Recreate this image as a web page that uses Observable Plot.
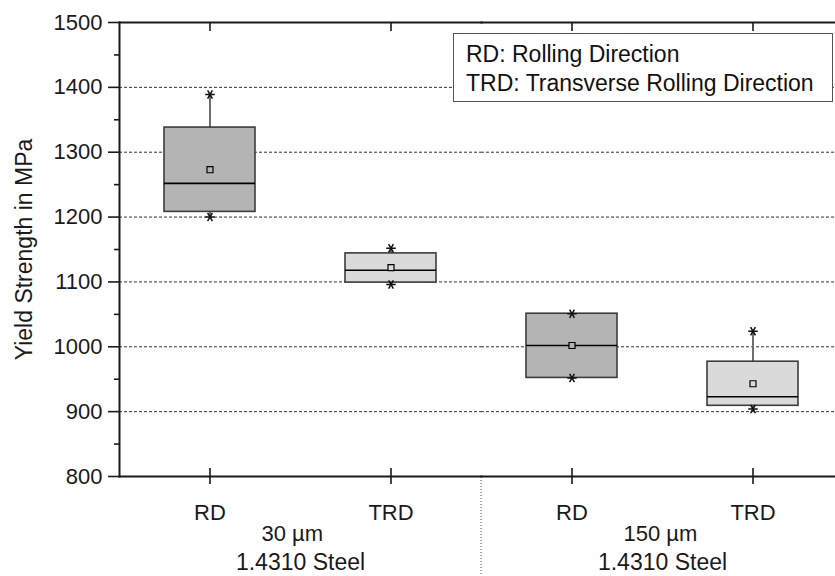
<!DOCTYPE html>
<html>
<head>
<meta charset="utf-8">
<script src="https://cdn.jsdelivr.net/npm/d3@7"></script>
<script src="https://cdn.jsdelivr.net/npm/@observablehq/plot@0.6"></script>
<style>
  html, body { margin: 0; padding: 0; background: #fff; overflow: hidden; }
  #wrap { position: relative; width: 835px; height: 576px; overflow: hidden; font-family: "Liberation Sans", Arial, sans-serif; }
  #legend { position: absolute; left: 453px; top: 33px; box-sizing: border-box; width: 380px; height: 69px;
    border: 1px solid #555; background: #fff; font-size: 23px; line-height: 28.5px; padding: 6px 0 0 12px; color: #111; }
  #legend div { white-space: nowrap; }
</style>
</head>
<body>
<div id="wrap"><div id="legend"></div></div>
<script>
// ---- data ----
const directions = ["RD", "TRD"];
const groups = ["30 µm", "150 µm"];
const material = "1.4310 Steel";
const boxGroup = ["30 µm", "30 µm", "150 µm", "150 µm"];
const boxDir = ["RD", "TRD", "RD", "TRD"];
const whiskerLow = [1200, 1096, 952, 904];
const q1 = [1208, 1099, 952, 909];
const median = [1252, 1118, 1002, 923];
const q3 = [1338, 1144, 1051, 977];
const whiskerHigh = [1389, 1152, 1051, 1024];
const mean = [1273, 1122, 1002, 943];
const yTicks = [800, 900, 1000, 1100, 1200, 1300, 1400, 1500];
const yMinorTicks = [850, 950, 1050, 1150, 1250, 1350, 1450];
const gridTicks = [900, 1000, 1100, 1200, 1300, 1400];
const legendLines = ["RD: Rolling Direction", "TRD: Transverse Rolling Direction"];
const yLabel = "Yield Strength in MPa";

const rows = boxDir.map((d, i) => ({
  group: boxGroup[i], dir: d, low: whiskerLow[i], q1: q1[i], median: median[i],
  q3: q3[i], high: whiskerHigh[i], mean: mean[i]
}));
const stars = rows.flatMap(r => [{group: r.group, dir: r.dir, v: r.low}, {group: r.group, dir: r.dir, v: r.high}]);

const FONT = "'Liberation Sans', Arial, sans-serif";
const INK = "#1a1a1a";

const chart = Plot.plot({
  width: 843,
  height: 576,
  marginLeft: 119,
  marginRight: 0,
  marginTop: 22,
  marginBottom: 100,
  style: {fontFamily: FONT, fontSize: "22px", color: INK, background: "transparent", overflow: "hidden"},
  fx: {domain: groups, padding: 0},
  x: {domain: directions, padding: 0},
  y: {domain: [800, 1500]},
  color: {domain: directions, range: ["#b4b4b4", "#dadada"]},
  marks: [
    Plot.gridY(gridTicks, {stroke: "#333", strokeOpacity: 1, strokeWidth: 1, strokeDasharray: "3,2"}),
    Plot.ruleX(rows, {fx: "group", x: "dir", y1: "low", y2: "high", stroke: "#6e6e6e", strokeWidth: 2}),
    Plot.barY(rows, {fx: "group", x: "dir", y1: "q1", y2: "q3", fill: "dir", stroke: "#3c3c3c", strokeWidth: 1.6, insetLeft: 45, insetRight: 45}),
    Plot.tickY(rows, {fx: "group", x: "dir", y: "median", stroke: "#000", strokeWidth: 1.6, insetLeft: 45, insetRight: 45}),
    Plot.dot(rows, {fx: "group", x: "dir", y: "mean", symbol: "square", r: 3.4, fill: "dir", stroke: "#000", strokeWidth: 1.2}),
    Plot.dot(stars, {fx: "group", x: "dir", y: "v", symbol: "asterisk", rotate: 90, r: 4.5, stroke: "#111", strokeWidth: 1.5}),
    Plot.frame({anchor: "left", facetAnchor: "left", stroke: INK, strokeWidth: 2}),
    Plot.frame({anchor: "top", stroke: INK, strokeWidth: 2}),
    Plot.frame({anchor: "bottom", stroke: INK, strokeWidth: 2}),
    Plot.axisY({ticks: yTicks, tickFormat: "d", tickSize: 11, tickPadding: 6, fontSize: 22, label: null, strokeWidth: 1.6, stroke: INK}),
    Plot.axisY({ticks: yMinorTicks, tickFormat: () => "", tickSize: 5, tickPadding: 0, label: null, strokeWidth: 1.6, stroke: INK}),
    Plot.axisX({anchor: "bottom", tickSize: 8, tickPadding: 19.4, fontSize: 22, label: null, strokeWidth: 1.6, stroke: INK}),
    Plot.axisX({anchor: "bottom", tickSize: -8, tickFormat: () => "", label: null, strokeWidth: 1.6, stroke: INK}),
    Plot.axisX({anchor: "top", tickSize: -8, tickFormat: () => "", label: null, strokeWidth: 1.6, stroke: INK}),
    Plot.axisFx({anchor: "bottom", tickSize: 0, tickPadding: 48.4, fontSize: 22, label: null, textAnchor: "start", dx: -39}),
    Plot.axisFx({anchor: "bottom", tickSize: 0, tickPadding: 76.7, fontSize: 23, label: null, tickFormat: () => material}),
    Plot.text([yLabel], {frameAnchor: "left", facetAnchor: "left", textAnchor: "middle", rotate: -90, dx: -95, fontSize: 23, fill: INK})
  ]
});
chart.style.maxWidth = "none";

// dotted divider between the two groups, below the axis, positioned from the library's scales
const fxScale = chart.scale("fx");
const yScale = chart.scale("y");
const xDiv = fxScale.apply(groups[1]);
const yBottom = yScale.apply(800);
d3.select(chart).append("line")
  .attr("x1", xDiv).attr("x2", xDiv)
  .attr("y1", yBottom + 1).attr("y2", 576)
  .attr("stroke", "#555").attr("stroke-width", 1).attr("stroke-dasharray", "1,2");

const wrap = document.getElementById("wrap");
wrap.insertBefore(chart, wrap.firstChild);
chart.style.position = "absolute";
chart.style.left = "0";
chart.style.top = "0";

const legend = document.getElementById("legend");
legendLines.forEach(t => { const d = document.createElement("div"); d.textContent = t; legend.appendChild(d); });
</script>
</body>
</html>
